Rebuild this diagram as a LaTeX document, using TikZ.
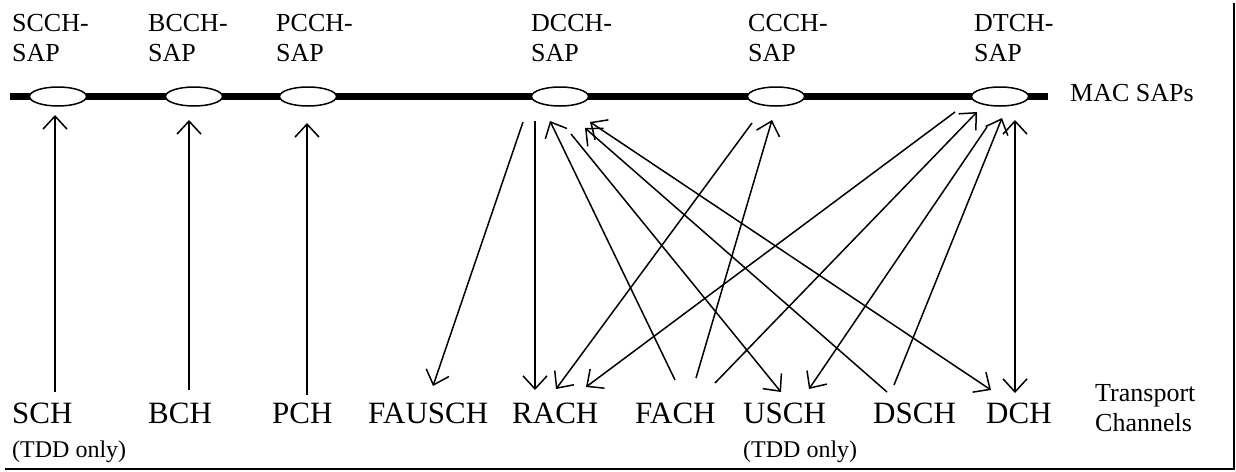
\documentclass[tikz,border=0pt]{standalone}
\usepackage{fontspec}
\setmainfont{Liberation Serif}
\usetikzlibrary{arrows.meta,shapes.geometric}
\newcommand\labfont{\fontsize{26}{30}\selectfont}
\newcommand\chanfont{\fontsize{31}{36}\selectfont}
\newcommand\notefont{\fontsize{24}{28}\selectfont}
\begin{document}
\begin{tikzpicture}[x=1pt,y=-1pt,
  sap/.style={ellipse, draw, line width=1.5pt, fill=white, minimum width=57pt, minimum height=19pt, inner sep=0pt},
  lab/.style={anchor=base west, inner sep=0pt, font=\labfont},
  chan/.style={anchor=base west, inner sep=0pt, font=\chanfont},
  note/.style={anchor=base west, inner sep=0pt, font=\notefont},
  conn/.style={line width=1.5pt, -{Straight Barb[length=13pt,width=24pt]}},
  conntwo/.style={line width=1.5pt, {Straight Barb[length=13pt,width=24pt]}-{Straight Barb[length=13pt,width=24pt]}},
  bus/.style={line width=7pt},
  frame/.style={line width=2pt}]
\useasboundingbox (0,0) rectangle (1236,471);
% frame
\coordinate (fa) at (5,469);
\coordinate (fb) at (1234,469);
\coordinate (fc) at (1234,3);
\draw[frame] (fa) -- (fb) -- (fc);
% bus
\coordinate (busL) at (10,96.5);
\coordinate (busR) at (1048,96.5);
\draw[bus] (busL) -- (busR);
% SAPs
\node[sap] (scch) at (58,96.5) {};
\node[sap] (bcch) at (194,96.5) {};
\node[sap] (pcch) at (308,96.5) {};
\node[sap] (dcch) at (560,96.5) {};
\node[sap] (ccch) at (776,96.5) {};
\node[sap] (dtch) at (1000,96.5) {};
% SAP labels
\node[lab] (lscch) at (12,31) {\begin{tabular}[t]{@{}l@{}}SCCH-\\SAP\end{tabular}};
\node[lab] (lbcch) at (148,31) {\begin{tabular}[t]{@{}l@{}}BCCH-\\SAP\end{tabular}};
\node[lab] (lpcch) at (276,31) {\begin{tabular}[t]{@{}l@{}}PCCH-\\SAP\end{tabular}};
\node[lab] (ldcch) at (531,31) {\begin{tabular}[t]{@{}l@{}}DCCH-\\SAP\end{tabular}};
\node[lab] (lccch) at (748,31) {\begin{tabular}[t]{@{}l@{}}CCCH-\\SAP\end{tabular}};
\node[lab] (ldtch) at (974,31) {\begin{tabular}[t]{@{}l@{}}DTCH-\\SAP\end{tabular}};
\node[lab] (macsaps) at (1070,101.5) {MAC SAPs};
% transport channels
\node[chan] (sch) at (12,423) {SCH};
\node[note] (schn) at (12,457) {(TDD only)};
\node[chan] (bch) at (148,423) {BCH};
\node[chan] (pch) at (272,423) {PCH};
\node[chan] (fausch) at (368,423) {FAUSCH};
\node[chan] (rach) at (512,423) {RACH};
\node[chan] (fach) at (635,423) {FACH};
\node[chan] (usch) at (743,423) {USCH};
\node[note] (uschn) at (743,457) {(TDD only)};
\node[chan] (dsch) at (873,423) {DSCH};
\node[chan] (dch) at (986,423) {DCH};
\node[lab] (tc) at (1095,401) {\begin{tabular}[t]{@{}l@{}}Transport\\Channels\end{tabular}};
% connector end points
\coordinate (schT) at (55,392);   \coordinate (scchB) at (55,115);
\coordinate (bchT) at (189,390);  \coordinate (bcchB) at (189,120);
\coordinate (pchT) at (307,395);  \coordinate (pcchB) at (307,123);
\coordinate (d1) at (523,122); \coordinate (faT) at (433,386);
\coordinate (d2) at (535,121); \coordinate (ra1) at (535,390);
\coordinate (fa1) at (675,380); \coordinate (d3) at (550,121);
\coordinate (d4) at (571,134); \coordinate (us1) at (781,392);
\coordinate (ds1) at (887,392); \coordinate (d5) at (585,128);
\coordinate (d6) at (590,122); \coordinate (dc1) at (991,390);
\coordinate (c1) at (752,123); \coordinate (ra2) at (556,389);
\coordinate (fa2) at (696,378); \coordinate (c2) at (772,120);
\coordinate (t1) at (955,112); \coordinate (ra3) at (586,387);
\coordinate (fa3) at (715,383); \coordinate (t2) at (977,112);
\coordinate (t3) at (987,127); \coordinate (us2) at (809,389);
\coordinate (ds2) at (894,385); \coordinate (t4) at (1002,118);
\coordinate (t5) at (1015,120); \coordinate (dc2) at (1015,393);
% connectors
\draw[conn] (schT) -- (scchB);
\draw[conn] (bchT) -- (bcchB);
\draw[conn] (pchT) -- (pcchB);
\draw[conn] (d1) -- (faT);
\draw[conn] (d2) -- (ra1);
\draw[conn] (fa1) -- (d3);
\draw[conn] (d4) -- (us1);
\draw[conn] (ds1) -- (d5);
\draw[conntwo] (d6) -- (dc1);
\draw[conn] (c1) -- (ra2);
\draw[conn] (fa2) -- (c2);
\draw[conn] (t1) -- (ra3);
\draw[conn] (fa3) -- (t2);
\draw[conn] (t3) -- (us2);
\draw[conn] (ds2) -- (t4);
\draw[conntwo] (t5) -- (dc2);
\end{tikzpicture}
\end{document}
